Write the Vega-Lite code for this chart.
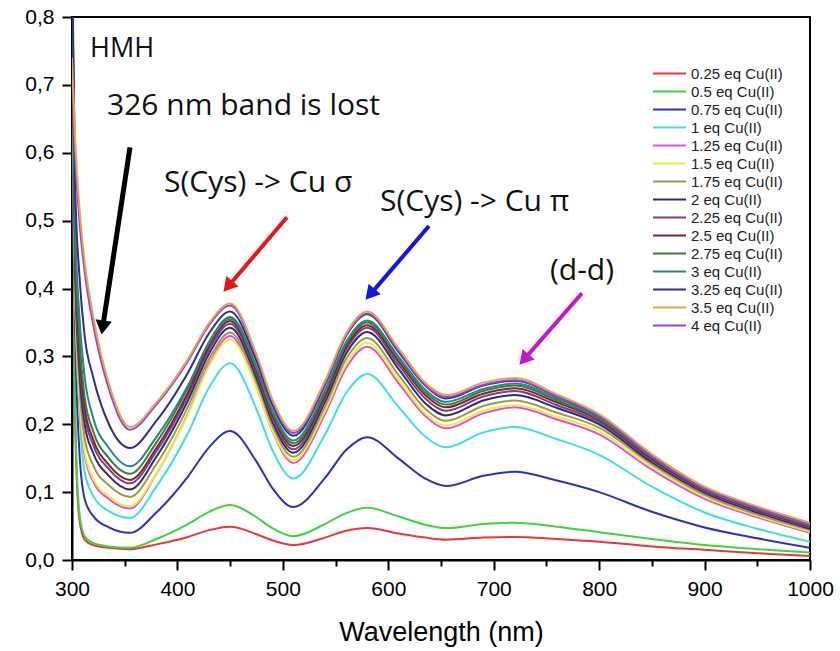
{
"$schema": "https://vega.github.io/schema/vega-lite/v6.json",
"width": 738, "height": 543,
"autosize": {"type": "none"},
"padding": {"left": 72, "top": 17, "right": 30, "bottom": 91},
"background": "white",
"config": {"view": {"stroke": "black", "strokeWidth": 2}, "font": "Liberation Sans",
 "axis": {"ticks": true, "tickSize": 10, "tickWidth": 2, "tickColor": "#000000", "tickOpacity": 1, "domainColor": "#000000", "domainWidth": 2, "grid": false}},
"datasets": {
"spectra": [
{"c":0.25,"x":300,"y":0.8},{"c":0.25,"x":303,"y":0.2},{"c":0.25,"x":307,"y":0.06},{"c":0.25,"x":312,"y":0.03},{"c":0.25,"x":320,"y":0.022},{"c":0.25,"x":335,"y":0.018},{"c":0.25,"x":355,"y":0.016},{"c":0.25,"x":380,"y":0.023},{"c":0.25,"x":410,"y":0.034},{"c":0.25,"x":430,"y":0.044},{"c":0.25,"x":450,"y":0.049},{"c":0.25,"x":475,"y":0.038},{"c":0.25,"x":490,"y":0.029},{"c":0.25,"x":510,"y":0.022},{"c":0.25,"x":540,"y":0.033},{"c":0.25,"x":560,"y":0.043},{"c":0.25,"x":580,"y":0.047},{"c":0.25,"x":610,"y":0.039},{"c":0.25,"x":635,"y":0.033},{"c":0.25,"x":655,"y":0.030},{"c":0.25,"x":690,"y":0.033},{"c":0.25,"x":720,"y":0.034},{"c":0.25,"x":760,"y":0.031},{"c":0.25,"x":800,"y":0.027},{"c":0.25,"x":850,"y":0.020},{"c":0.25,"x":900,"y":0.015},{"c":0.25,"x":950,"y":0.010},{"c":0.25,"x":1000,"y":0.006},
{"c":0.5,"x":300,"y":0.82},{"c":0.5,"x":303,"y":0.22},{"c":0.5,"x":307,"y":0.07},{"c":0.5,"x":312,"y":0.035},{"c":0.5,"x":320,"y":0.025},{"c":0.5,"x":335,"y":0.02},{"c":0.5,"x":355,"y":0.018},{"c":0.5,"x":380,"y":0.031},{"c":0.5,"x":410,"y":0.053},{"c":0.5,"x":430,"y":0.071},{"c":0.5,"x":450,"y":0.081},{"c":0.5,"x":475,"y":0.063},{"c":0.5,"x":490,"y":0.047},{"c":0.5,"x":510,"y":0.035},{"c":0.5,"x":540,"y":0.053},{"c":0.5,"x":560,"y":0.069},{"c":0.5,"x":580,"y":0.077},{"c":0.5,"x":610,"y":0.064},{"c":0.5,"x":635,"y":0.052},{"c":0.5,"x":655,"y":0.047},{"c":0.5,"x":690,"y":0.053},{"c":0.5,"x":720,"y":0.055},{"c":0.5,"x":760,"y":0.049},{"c":0.5,"x":800,"y":0.041},{"c":0.5,"x":850,"y":0.031},{"c":0.5,"x":900,"y":0.022},{"c":0.5,"x":950,"y":0.016},{"c":0.5,"x":1000,"y":0.011},
{"c":0.75,"x":300,"y":0.84},{"c":0.75,"x":303,"y":0.35},{"c":0.75,"x":307,"y":0.16},{"c":0.75,"x":312,"y":0.09},{"c":0.75,"x":320,"y":0.065},{"c":0.75,"x":335,"y":0.048},{"c":0.75,"x":355,"y":0.040},{"c":0.75,"x":380,"y":0.070},{"c":0.75,"x":410,"y":0.123},{"c":0.75,"x":430,"y":0.166},{"c":0.75,"x":450,"y":0.190},{"c":0.75,"x":475,"y":0.145},{"c":0.75,"x":490,"y":0.106},{"c":0.75,"x":510,"y":0.078},{"c":0.75,"x":540,"y":0.121},{"c":0.75,"x":560,"y":0.162},{"c":0.75,"x":580,"y":0.181},{"c":0.75,"x":610,"y":0.149},{"c":0.75,"x":635,"y":0.120},{"c":0.75,"x":655,"y":0.109},{"c":0.75,"x":690,"y":0.124},{"c":0.75,"x":720,"y":0.130},{"c":0.75,"x":760,"y":0.117},{"c":0.75,"x":800,"y":0.100},{"c":0.75,"x":850,"y":0.071},{"c":0.75,"x":900,"y":0.048},{"c":0.75,"x":950,"y":0.032},{"c":0.75,"x":1000,"y":0.018},
{"c":1,"x":300,"y":0.85},{"c":1,"x":303,"y":0.4},{"c":1,"x":307,"y":0.22},{"c":1,"x":312,"y":0.13},{"c":1,"x":320,"y":0.095},{"c":1,"x":335,"y":0.072},{"c":1,"x":355,"y":0.062},{"c":1,"x":380,"y":0.108},{"c":1,"x":410,"y":0.187},{"c":1,"x":430,"y":0.254},{"c":1,"x":450,"y":0.290},{"c":1,"x":475,"y":0.222},{"c":1,"x":490,"y":0.162},{"c":1,"x":510,"y":0.120},{"c":1,"x":540,"y":0.185},{"c":1,"x":560,"y":0.246},{"c":1,"x":580,"y":0.274},{"c":1,"x":610,"y":0.225},{"c":1,"x":635,"y":0.182},{"c":1,"x":655,"y":0.166},{"c":1,"x":690,"y":0.188},{"c":1,"x":720,"y":0.196},{"c":1,"x":760,"y":0.178},{"c":1,"x":800,"y":0.155},{"c":1,"x":850,"y":0.108},{"c":1,"x":900,"y":0.070},{"c":1,"x":950,"y":0.046},{"c":1,"x":1000,"y":0.027},
{"c":1.25,"x":300,"y":0.86},{"c":1.25,"x":303,"y":0.4},{"c":1.25,"x":307,"y":0.235},{"c":1.25,"x":312,"y":0.155},{"c":1.25,"x":320,"y":0.116},{"c":1.25,"x":335,"y":0.09},{"c":1.25,"x":355,"y":0.076},{"c":1.25,"x":380,"y":0.127},{"c":1.25,"x":410,"y":0.216},{"c":1.25,"x":430,"y":0.289},{"c":1.25,"x":450,"y":0.330},{"c":1.25,"x":475,"y":0.255},{"c":1.25,"x":490,"y":0.190},{"c":1.25,"x":510,"y":0.143},{"c":1.25,"x":540,"y":0.215},{"c":1.25,"x":560,"y":0.283},{"c":1.25,"x":580,"y":0.314},{"c":1.25,"x":610,"y":0.260},{"c":1.25,"x":635,"y":0.212},{"c":1.25,"x":655,"y":0.194},{"c":1.25,"x":690,"y":0.216},{"c":1.25,"x":720,"y":0.225},{"c":1.25,"x":760,"y":0.207},{"c":1.25,"x":800,"y":0.185},{"c":1.25,"x":850,"y":0.133},{"c":1.25,"x":900,"y":0.090},{"c":1.25,"x":950,"y":0.063},{"c":1.25,"x":1000,"y":0.040},
{"c":1.5,"x":300,"y":0.86},{"c":1.5,"x":303,"y":0.4},{"c":1.5,"x":307,"y":0.24},{"c":1.5,"x":312,"y":0.16},{"c":1.5,"x":320,"y":0.12},{"c":1.5,"x":335,"y":0.094},{"c":1.5,"x":355,"y":0.079},{"c":1.5,"x":380,"y":0.128},{"c":1.5,"x":410,"y":0.214},{"c":1.5,"x":430,"y":0.286},{"c":1.5,"x":450,"y":0.325},{"c":1.5,"x":475,"y":0.254},{"c":1.5,"x":490,"y":0.191},{"c":1.5,"x":510,"y":0.147},{"c":1.5,"x":540,"y":0.220},{"c":1.5,"x":560,"y":0.289},{"c":1.5,"x":580,"y":0.320},{"c":1.5,"x":610,"y":0.265},{"c":1.5,"x":635,"y":0.216},{"c":1.5,"x":655,"y":0.198},{"c":1.5,"x":690,"y":0.220},{"c":1.5,"x":720,"y":0.228},{"c":1.5,"x":760,"y":0.211},{"c":1.5,"x":800,"y":0.190},{"c":1.5,"x":850,"y":0.137},{"c":1.5,"x":900,"y":0.093},{"c":1.5,"x":950,"y":0.065},{"c":1.5,"x":1000,"y":0.042},
{"c":1.75,"x":300,"y":0.86},{"c":1.75,"x":303,"y":0.42},{"c":1.75,"x":307,"y":0.26},{"c":1.75,"x":312,"y":0.18},{"c":1.75,"x":320,"y":0.14},{"c":1.75,"x":335,"y":0.11},{"c":1.75,"x":355,"y":0.093},{"c":1.75,"x":380,"y":0.141},{"c":1.75,"x":410,"y":0.226},{"c":1.75,"x":430,"y":0.296},{"c":1.75,"x":450,"y":0.335},{"c":1.75,"x":475,"y":0.262},{"c":1.75,"x":490,"y":0.198},{"c":1.75,"x":510,"y":0.152},{"c":1.75,"x":540,"y":0.226},{"c":1.75,"x":560,"y":0.296},{"c":1.75,"x":580,"y":0.327},{"c":1.75,"x":610,"y":0.272},{"c":1.75,"x":635,"y":0.223},{"c":1.75,"x":655,"y":0.205},{"c":1.75,"x":690,"y":0.227},{"c":1.75,"x":720,"y":0.235},{"c":1.75,"x":760,"y":0.217},{"c":1.75,"x":800,"y":0.195},{"c":1.75,"x":850,"y":0.141},{"c":1.75,"x":900,"y":0.096},{"c":1.75,"x":950,"y":0.067},{"c":1.75,"x":1000,"y":0.044},
{"c":2,"x":300,"y":0.87},{"c":2,"x":303,"y":0.43},{"c":2,"x":307,"y":0.28},{"c":2,"x":312,"y":0.2},{"c":2,"x":320,"y":0.158},{"c":2,"x":335,"y":0.124},{"c":2,"x":355,"y":0.104},{"c":2,"x":380,"y":0.152},{"c":2,"x":410,"y":0.235},{"c":2,"x":430,"y":0.304},{"c":2,"x":450,"y":0.342},{"c":2,"x":475,"y":0.268},{"c":2,"x":490,"y":0.204},{"c":2,"x":510,"y":0.158},{"c":2,"x":540,"y":0.233},{"c":2,"x":560,"y":0.304},{"c":2,"x":580,"y":0.336},{"c":2,"x":610,"y":0.281},{"c":2,"x":635,"y":0.231},{"c":2,"x":655,"y":0.213},{"c":2,"x":690,"y":0.235},{"c":2,"x":720,"y":0.243},{"c":2,"x":760,"y":0.224},{"c":2,"x":800,"y":0.200},{"c":2,"x":850,"y":0.144},{"c":2,"x":900,"y":0.099},{"c":2,"x":950,"y":0.070},{"c":2,"x":1000,"y":0.046},
{"c":2.25,"x":300,"y":0.87},{"c":2.25,"x":303,"y":0.44},{"c":2.25,"x":307,"y":0.30},{"c":2.25,"x":312,"y":0.215},{"c":2.25,"x":320,"y":0.17},{"c":2.25,"x":335,"y":0.134},{"c":2.25,"x":355,"y":0.113},{"c":2.25,"x":380,"y":0.160},{"c":2.25,"x":410,"y":0.242},{"c":2.25,"x":430,"y":0.310},{"c":2.25,"x":450,"y":0.348},{"c":2.25,"x":475,"y":0.274},{"c":2.25,"x":490,"y":0.209},{"c":2.25,"x":510,"y":0.163},{"c":2.25,"x":540,"y":0.238},{"c":2.25,"x":560,"y":0.310},{"c":2.25,"x":580,"y":0.342},{"c":2.25,"x":610,"y":0.287},{"c":2.25,"x":635,"y":0.238},{"c":2.25,"x":655,"y":0.220},{"c":2.25,"x":690,"y":0.241},{"c":2.25,"x":720,"y":0.249},{"c":2.25,"x":760,"y":0.228},{"c":2.25,"x":800,"y":0.203},{"c":2.25,"x":850,"y":0.147},{"c":2.25,"x":900,"y":0.101},{"c":2.25,"x":950,"y":0.072},{"c":2.25,"x":1000,"y":0.048},
{"c":2.5,"x":300,"y":0.88},{"c":2.5,"x":303,"y":0.45},{"c":2.5,"x":307,"y":0.31},{"c":2.5,"x":312,"y":0.225},{"c":2.5,"x":320,"y":0.178},{"c":2.5,"x":335,"y":0.14},{"c":2.5,"x":355,"y":0.118},{"c":2.5,"x":380,"y":0.165},{"c":2.5,"x":410,"y":0.247},{"c":2.5,"x":430,"y":0.315},{"c":2.5,"x":450,"y":0.352},{"c":2.5,"x":475,"y":0.278},{"c":2.5,"x":490,"y":0.214},{"c":2.5,"x":510,"y":0.168},{"c":2.5,"x":540,"y":0.243},{"c":2.5,"x":560,"y":0.314},{"c":2.5,"x":580,"y":0.346},{"c":2.5,"x":610,"y":0.292},{"c":2.5,"x":635,"y":0.243},{"c":2.5,"x":655,"y":0.225},{"c":2.5,"x":690,"y":0.245},{"c":2.5,"x":720,"y":0.253},{"c":2.5,"x":760,"y":0.232},{"c":2.5,"x":800,"y":0.206},{"c":2.5,"x":850,"y":0.149},{"c":2.5,"x":900,"y":0.103},{"c":2.5,"x":950,"y":0.074},{"c":2.5,"x":1000,"y":0.050},
{"c":2.75,"x":300,"y":0.88},{"c":2.75,"x":303,"y":0.47},{"c":2.75,"x":307,"y":0.33},{"c":2.75,"x":312,"y":0.24},{"c":2.75,"x":320,"y":0.19},{"c":2.75,"x":335,"y":0.15},{"c":2.75,"x":355,"y":0.127},{"c":2.75,"x":380,"y":0.173},{"c":2.75,"x":410,"y":0.254},{"c":2.75,"x":430,"y":0.321},{"c":2.75,"x":450,"y":0.358},{"c":2.75,"x":475,"y":0.284},{"c":2.75,"x":490,"y":0.218},{"c":2.75,"x":510,"y":0.172},{"c":2.75,"x":540,"y":0.247},{"c":2.75,"x":560,"y":0.318},{"c":2.75,"x":580,"y":0.350},{"c":2.75,"x":610,"y":0.296},{"c":2.75,"x":635,"y":0.247},{"c":2.75,"x":655,"y":0.229},{"c":2.75,"x":690,"y":0.249},{"c":2.75,"x":720,"y":0.257},{"c":2.75,"x":760,"y":0.235},{"c":2.75,"x":800,"y":0.208},{"c":2.75,"x":850,"y":0.151},{"c":2.75,"x":900,"y":0.104},{"c":2.75,"x":950,"y":0.075},{"c":2.75,"x":1000,"y":0.051},
{"c":3,"x":300,"y":0.88},{"c":3,"x":303,"y":0.5},{"c":3,"x":307,"y":0.36},{"c":3,"x":312,"y":0.27},{"c":3,"x":320,"y":0.21},{"c":3,"x":335,"y":0.165},{"c":3,"x":355,"y":0.138},{"c":3,"x":380,"y":0.181},{"c":3,"x":410,"y":0.257},{"c":3,"x":430,"y":0.320},{"c":3,"x":450,"y":0.355},{"c":3,"x":475,"y":0.283},{"c":3,"x":490,"y":0.221},{"c":3,"x":510,"y":0.176},{"c":3,"x":540,"y":0.250},{"c":3,"x":560,"y":0.321},{"c":3,"x":580,"y":0.353},{"c":3,"x":610,"y":0.299},{"c":3,"x":635,"y":0.251},{"c":3,"x":655,"y":0.233},{"c":3,"x":690,"y":0.252},{"c":3,"x":720,"y":0.260},{"c":3,"x":760,"y":0.238},{"c":3,"x":800,"y":0.210},{"c":3,"x":850,"y":0.152},{"c":3,"x":900,"y":0.105},{"c":3,"x":950,"y":0.076},{"c":3,"x":1000,"y":0.052},
{"c":3.25,"x":300,"y":0.9},{"c":3.25,"x":303,"y":0.55},{"c":3.25,"x":307,"y":0.42},{"c":3.25,"x":312,"y":0.33},{"c":3.25,"x":320,"y":0.27},{"c":3.25,"x":335,"y":0.2},{"c":3.25,"x":355,"y":0.165},{"c":3.25,"x":380,"y":0.205},{"c":3.25,"x":410,"y":0.276},{"c":3.25,"x":430,"y":0.334},{"c":3.25,"x":450,"y":0.366},{"c":3.25,"x":475,"y":0.293},{"c":3.25,"x":490,"y":0.229},{"c":3.25,"x":510,"y":0.183},{"c":3.25,"x":540,"y":0.258},{"c":3.25,"x":560,"y":0.330},{"c":3.25,"x":580,"y":0.362},{"c":3.25,"x":610,"y":0.306},{"c":3.25,"x":635,"y":0.257},{"c":3.25,"x":655,"y":0.238},{"c":3.25,"x":690,"y":0.257},{"c":3.25,"x":720,"y":0.264},{"c":3.25,"x":760,"y":0.241},{"c":3.25,"x":800,"y":0.212},{"c":3.25,"x":850,"y":0.154},{"c":3.25,"x":900,"y":0.107},{"c":3.25,"x":950,"y":0.077},{"c":3.25,"x":1000,"y":0.053},
{"c":4,"x":300,"y":0.73},{"c":4,"x":303,"y":0.60},{"c":4,"x":307,"y":0.50},{"c":4,"x":312,"y":0.425},{"c":4,"x":320,"y":0.348},{"c":4,"x":335,"y":0.252},{"c":4,"x":355,"y":0.192},{"c":4,"x":380,"y":0.229},{"c":4,"x":410,"y":0.293},{"c":4,"x":430,"y":0.346},{"c":4,"x":450,"y":0.375},{"c":4,"x":475,"y":0.300},{"c":4,"x":490,"y":0.234},{"c":4,"x":510,"y":0.187},{"c":4,"x":540,"y":0.261},{"c":4,"x":560,"y":0.331},{"c":4,"x":580,"y":0.363},{"c":4,"x":610,"y":0.308},{"c":4,"x":635,"y":0.258},{"c":4,"x":655,"y":0.240},{"c":4,"x":690,"y":0.258},{"c":4,"x":720,"y":0.265},{"c":4,"x":760,"y":0.241},{"c":4,"x":800,"y":0.212},{"c":4,"x":850,"y":0.153},{"c":4,"x":900,"y":0.105},{"c":4,"x":950,"y":0.076},{"c":4,"x":1000,"y":0.052},
{"c":3.5,"x":300,"y":0.74},{"c":3.5,"x":303,"y":0.62},{"c":3.5,"x":307,"y":0.52},{"c":3.5,"x":312,"y":0.44},{"c":3.5,"x":320,"y":0.36},{"c":3.5,"x":335,"y":0.26},{"c":3.5,"x":355,"y":0.196},{"c":3.5,"x":380,"y":0.232},{"c":3.5,"x":410,"y":0.296},{"c":3.5,"x":430,"y":0.349},{"c":3.5,"x":450,"y":0.378},{"c":3.5,"x":475,"y":0.303},{"c":3.5,"x":490,"y":0.237},{"c":3.5,"x":510,"y":0.190},{"c":3.5,"x":540,"y":0.264},{"c":3.5,"x":560,"y":0.334},{"c":3.5,"x":580,"y":0.366},{"c":3.5,"x":610,"y":0.311},{"c":3.5,"x":635,"y":0.261},{"c":3.5,"x":655,"y":0.243},{"c":3.5,"x":690,"y":0.261},{"c":3.5,"x":720,"y":0.268},{"c":3.5,"x":760,"y":0.244},{"c":3.5,"x":800,"y":0.215},{"c":3.5,"x":850,"y":0.156},{"c":3.5,"x":900,"y":0.108},{"c":3.5,"x":950,"y":0.079},{"c":3.5,"x":1000,"y":0.055}
]
},
"layer": [
{
"data": {"name": "spectra"},
"mark": {"type": "line", "strokeWidth": 2, "interpolate": "monotone", "clip": true},
"encoding": {
"x": {"field": "x", "type": "quantitative", "title": "Wavelength (nm)",
 "scale": {"domain": [300, 1000], "nice": false},
 "axis": {"values": [300,350,400,450,500,550,600,650,700,750,800,850,900,950,1000],
  "labelExpr": "datum.value % 100 === 0 ? format(datum.value, 'd') : ''",
  "ticks": true, "tickOpacity": 1,
  "tickSize": {"condition": {"test": "datum.value % 100 !== 0", "value": 6}, "value": 10},
  "grid": false, "labelFlush": false, "labelOverlap": false, "labelBound": false,
  "labelFont": "Liberation Sans", "labelFontSize": 21, "labelColor": "black", "labelPadding": 8,
  "domainColor": "#000000", "domainWidth": 2, "tickColor": "#000000", "tickWidth": 2,
  "titleFont": "Liberation Sans", "titleFontSize": 27, "titleFontWeight": "normal", "titleColor": "black", "titlePadding": 20}},
"y": {"field": "y", "type": "quantitative", "title": null,
 "scale": {"domain": [0, 0.8], "nice": false},
 "axis": {"values": [0,0.1,0.2,0.3,0.4,0.5,0.6,0.7,0.8],
  "labelExpr": "replace(format(datum.value, '.1f'), '.', ',')",
  "ticks": true, "tickOpacity": 1,
  "grid": false, "labelOverlap": false, "labelBound": false, "labelFlush": false,
  "tickSize": 10, "labelFont": "Liberation Sans", "labelFontSize": 21, "labelColor": "black", "labelPadding": 8,
  "domainColor": "#000000", "domainWidth": 2, "tickColor": "#000000", "tickWidth": 2}},
"color": {"field": "c", "type": "ordinal",
 "scale": {"domain": [0.25,0.5,0.75,1,1.25,1.5,1.75,2,2.25,2.5,2.75,3,3.25,3.5,4],
  "range": ["#e8383a","#3fd43f","#2f2fc4","#40e0e0","#e050e0","#eeee3a","#9c9c48","#2c2c7c","#843c84","#7c2434","#348034","#2c8484","#30308c","#eaa448","#8c44e4"]},
 "legend": {"orient": "none", "legendX": 589, "legendY": 48, "title": null,
  "symbolType": "M-2.2,0L2.2,0", "symbolSize": 225, "symbolStrokeWidth": 2,
  "labelFont": "Liberation Sans", "labelFontSize": 15, "labelColor": "#222", "labelOffset": 13,
  "rowPadding": 1, "padding": 0,
  "labelExpr": "datum.label + ' eq Cu(II)'"}}
}
},
{
"data": {"values": [{"x": 317.1, "y": 0.741, "t": "HMH"}]},
"mark": {"type": "text", "font": "Open Sans", "fontSize": 27, "align": "left", "baseline": "alphabetic", "color": "#111"},
"encoding": {"x": {"field": "x", "type": "quantitative", "title": "Wavelength (nm)"}, "y": {"field": "y", "type": "quantitative", "title": null}, "text": {"field": "t"}}
},
{
"data": {"values": [
 {"x": 333.2, "y": 0.656, "t": "326 nm band is lost"},
 {"x": 387.3, "y": 0.542, "t": "S(Cys) -> Cu σ"},
 {"x": 592.1, "y": 0.514, "t": "S(Cys) -> Cu π"},
 {"x": 753.4, "y": 0.4125, "t": "(d-d)"}
]},
"mark": {"type": "text", "font": "Open Sans", "fontSize": 30, "align": "left", "baseline": "alphabetic", "color": "#111"},
"encoding": {"x": {"field": "x", "type": "quantitative", "title": "Wavelength (nm)"}, "y": {"field": "y", "type": "quantitative", "title": null}, "text": {"field": "t"}}
},
{
"data": {"values": [{"x": 355.0, "y": 0.608, "x2": 330.0, "y2": 0.352, "hx": 329.4, "hy": 0.346}]},
"layer": [
 {"mark": {"type": "rule", "color": "black", "strokeWidth": 5},
  "encoding": {"x": {"field": "x", "type": "quantitative", "title": "Wavelength (nm)"}, "y": {"field": "y", "type": "quantitative", "title": null}, "x2": {"field": "x2"}, "y2": {"field": "y2"}}},
 {"mark": {"type": "point", "shape": "triangle", "filled": true, "color": "black", "opacity": 1, "size": 270, "angle": 188.6, "strokeWidth": 0},
  "encoding": {"x": {"field": "hx", "type": "quantitative", "title": "Wavelength (nm)"}, "y": {"field": "hy", "type": "quantitative", "title": null}}}
]
},
{
"data": {"values": [{"x": 503.9, "y": 0.505, "x2": 451.9, "y2": 0.410, "hx": 449.4, "hy": 0.4056}]},
"layer": [
 {"mark": {"type": "rule", "color": "#ee1414", "strokeWidth": 4},
  "encoding": {"x": {"field": "x", "type": "quantitative", "title": "Wavelength (nm)"}, "y": {"field": "y", "type": "quantitative", "title": null}, "x2": {"field": "x2"}, "y2": {"field": "y2"}}},
 {"mark": {"type": "point", "shape": "triangle", "filled": true, "color": "#ee1414", "opacity": 1, "size": 260, "angle": 220.3, "strokeWidth": 0},
  "encoding": {"x": {"field": "hx", "type": "quantitative", "title": "Wavelength (nm)"}, "y": {"field": "hy", "type": "quantitative", "title": null}}}
]
},
{
"data": {"values": [{"x": 638.6, "y": 0.492, "x2": 586.6, "y2": 0.398, "hx": 584.2, "hy": 0.394}]},
"layer": [
 {"mark": {"type": "rule", "color": "#1414e6", "strokeWidth": 4},
  "encoding": {"x": {"field": "x", "type": "quantitative", "title": "Wavelength (nm)"}, "y": {"field": "y", "type": "quantitative", "title": null}, "x2": {"field": "x2"}, "y2": {"field": "y2"}}},
 {"mark": {"type": "point", "shape": "triangle", "filled": true, "color": "#1414e6", "opacity": 1, "size": 260, "angle": 220.7, "strokeWidth": 0},
  "encoding": {"x": {"field": "hx", "type": "quantitative", "title": "Wavelength (nm)"}, "y": {"field": "hy", "type": "quantitative", "title": null}}}
]
},
{
"data": {"values": [{"x": 783.7, "y": 0.393, "x2": 732.7, "y2": 0.3025, "hx": 730.2, "hy": 0.298}]},
"layer": [
 {"mark": {"type": "rule", "color": "#c414cc", "strokeWidth": 4},
  "encoding": {"x": {"field": "x", "type": "quantitative", "title": "Wavelength (nm)"}, "y": {"field": "y", "type": "quantitative", "title": null}, "x2": {"field": "x2"}, "y2": {"field": "y2"}}},
 {"mark": {"type": "point", "shape": "triangle", "filled": true, "color": "#c414cc", "opacity": 1, "size": 260, "angle": 221.1, "strokeWidth": 0},
  "encoding": {"x": {"field": "hx", "type": "quantitative", "title": "Wavelength (nm)"}, "y": {"field": "hy", "type": "quantitative", "title": null}}}
]
}
]
}
